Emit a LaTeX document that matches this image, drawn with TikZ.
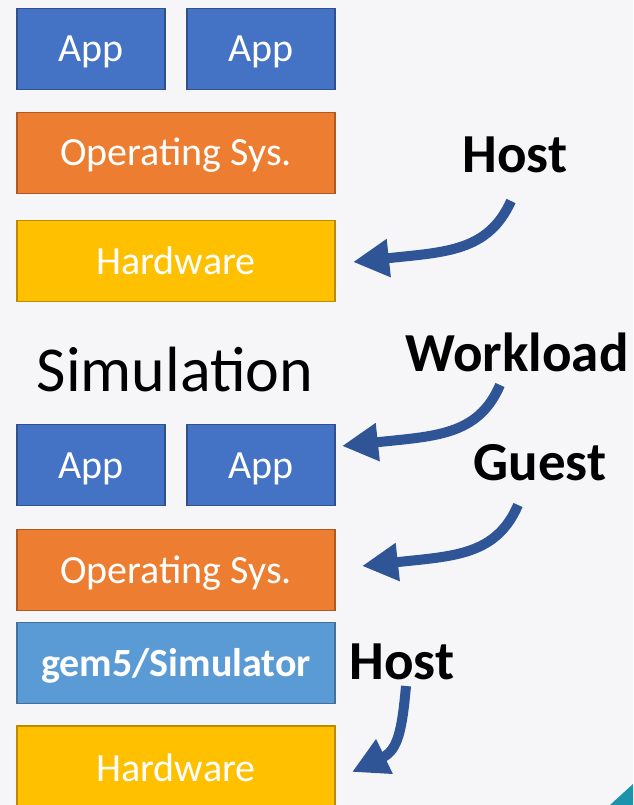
\documentclass[tikz,border=0pt]{standalone}
\usepackage{fontspec}
\setmainfont{Carlito}
\usetikzlibrary{arrows.meta}
\definecolor{bg}{HTML}{F6F6F9}
\definecolor{appblue}{HTML}{4472C4}
\definecolor{appborder}{HTML}{2F528F}
\definecolor{osorange}{HTML}{ED7D31}
\definecolor{osborder}{HTML}{AE5A21}
\definecolor{hwyellow}{HTML}{FFC000}
\definecolor{hwborder}{HTML}{BC8C00}
\definecolor{simblue}{HTML}{5B9BD5}
\definecolor{simborder}{HTML}{41719C}
\definecolor{arrowblue}{HTML}{2F5597}
\definecolor{teal}{HTML}{1A94AC}
\begin{document}
\begin{tikzpicture}[x=1pt,y=-1pt,
  layer/.style={draw, line width=1.2pt, inner sep=0pt, text=white, text height=26pt, text depth=0pt, font=\fontsize{40}{44}\selectfont},
  appbox/.style={layer, fill=appblue, draw=appborder},
  osbox/.style={layer, fill=osorange, draw=osborder},
  hwbox/.style={layer, fill=hwyellow, draw=hwborder},
  simbox/.style={layer, fill=simblue, draw=simborder, font=\fontsize{40}{44}\selectfont\bfseries},
  lbl/.style={font=\fontsize{55}{60}\selectfont\bfseries, inner sep=0pt},
  bigarrow/.style={draw=arrowblue, line width=10pt, -{Triangle[length=36pt,width=36pt]}}
]
\fill[bg] (0,0) rectangle (633,805);
\useasboundingbox (0,0) rectangle (633,805);
\fill[teal] (610,805) -- (633,784) -- (633,805) -- cycle;

% top stack
\node[appbox, minimum width=148pt, minimum height=81pt] (app1) at (91,49) {App};
\node[appbox, minimum width=148pt, minimum height=81pt] (app2) at (261,49) {App};
\node[osbox, minimum width=318pt, minimum height=81pt] (os1) at (176,153) {Operating Sys.};
\node[hwbox, minimum width=318pt, minimum height=81pt] (hw1) at (176,261) {Hardware};

\node[font=\fontsize{64}{68}\selectfont, inner sep=0pt] (sim) at (175,370) {Simulation};

% bottom stack
\node[appbox, minimum width=148pt, minimum height=81pt] (app3) at (91,465) {App};
\node[appbox, minimum width=148pt, minimum height=81pt] (app4) at (261,465) {App};
\node[osbox, minimum width=318pt, minimum height=81pt] (os2) at (176,570) {Operating Sys.};
\node[simbox, minimum width=318pt, minimum height=81pt] (gem) at (176,663) {gem5/Simulator};
\node[hwbox, minimum width=318pt, minimum height=84pt] (hw2) at (176,768) {Hardware};

% labels
\node[lbl] (host1) at (515,155) {Host};
\node[lbl] (work) at (517,352) {Workload};
\node[lbl] (guest) at (540,463) {Guest};
\node[lbl] (host2) at (402,662) {Host};

% arrow end points
\coordinate (a1s) at (511,201);
\coordinate (a1e) at (353,262);
\coordinate (a2s) at (500,385);
\coordinate (a2e) at (342,446);
\coordinate (a3s) at (518,505);
\coordinate (a3e) at (362,566);
\coordinate (a4s) at (406,686);
\coordinate (a4e) at (352,772);

\draw[bigarrow] (a1s) .. controls (488,252) and (445,252) .. (a1e);
\draw[bigarrow] (a2s) .. controls (478,436) and (435,436) .. (a2e);
\draw[bigarrow] (a3s) .. controls (496,556) and (453,556) .. (a3e);
\draw[bigarrow] (a4s) .. controls (402,730) and (398,750) .. (a4e);
\end{tikzpicture}
\end{document}
